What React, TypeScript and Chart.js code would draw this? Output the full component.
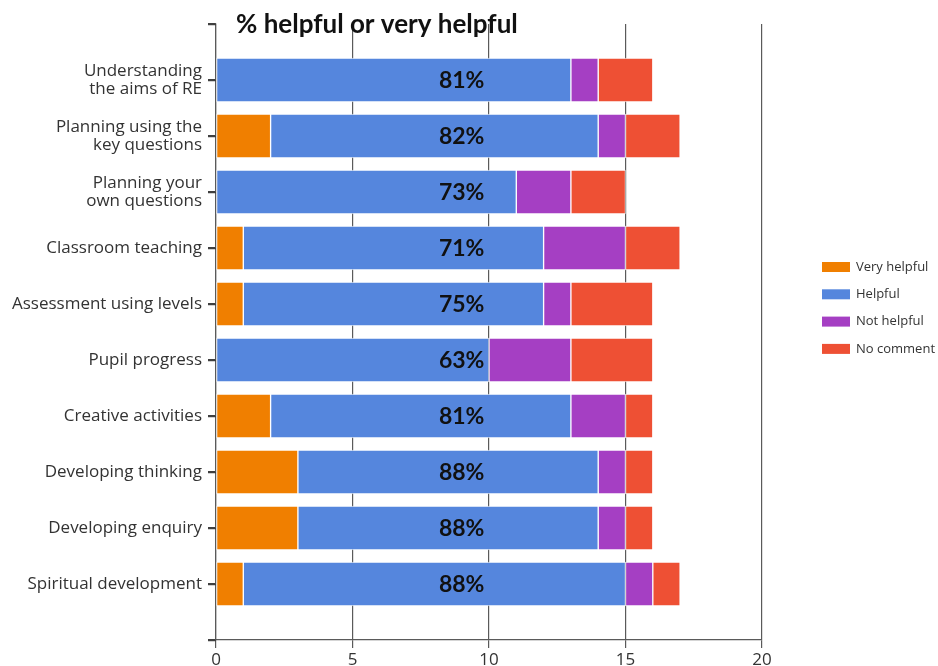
import React, { useEffect, useRef } from "react";
import { Chart, registerables } from "chart.js";

Chart.register(...registerables);

const categories: (string | string[])[] = [
  ["Understanding", "the aims of RE"],
  ["Planning using the", "key questions"],
  ["Planning your", "own questions"],
  "Classroom teaching",
  "Assessment using levels",
  "Pupil progress",
  "Creative activities",
  "Developing thinking",
  "Developing enquiry",
  "Spiritual development",
];
const veryHelpful = [0, 2, 0, 1, 1, 0, 2, 3, 3, 1];
const helpful = [13, 12, 11, 11, 11, 10, 11, 11, 11, 14];
const notHelpful = [1, 1, 2, 3, 1, 3, 2, 1, 1, 1];
const noComment = [2, 2, 2, 2, 3, 3, 1, 1, 1, 1];
const percentLabels = ["81%", "82%", "73%", "71%", "75%", "63%", "81%", "88%", "88%", "88%"];
const percentLabelX = 9;
const xTicks = [0, 5, 10, 15, 20];
const seriesNames = ["Very helpful", "Helpful", "Not helpful", "No comment"];
const seriesColors = ["#F07F00", "#5586DD", "#A53FC3", "#EE5034"];
const titleText = "% helpful or very helpful";

const pad = (arr: any[]) => [null, ...arr, null];

export default function App() {
  const ref = useRef<HTMLCanvasElement | null>(null);
  useEffect(() => {
    if (!ref.current) return;
    const labels = ["", ...categories, ""];
    const series = [veryHelpful, helpful, notHelpful, noComment];

    const overlay = {
      id: "overlay",
      afterDatasetsDraw(chart: any) {
        const { ctx, chartArea, scales } = chart;
        ctx.save();
        // y tick marks
        ctx.strokeStyle = "#404040";
        ctx.lineWidth = 1.5;
        for (let i = 0; i < labels.length; i++) {
          const y = Math.round(scales.y.getPixelForValue(i)) + 0.5;
          ctx.beginPath();
          ctx.moveTo(chartArea.left - 8, y);
          ctx.lineTo(chartArea.left, y);
          ctx.stroke();
        }
        // percent labels
        ctx.font = "bold 23px Lato";
        ctx.fillStyle = "#111";
        ctx.textAlign = "center";
        ctx.textBaseline = "middle";
        percentLabels.forEach((t, i) => {
          const x = scales.x.getPixelForValue(percentLabelX);
          const y = scales.y.getPixelForValue(i + 1);
          ctx.fillText(t, x, y + 1);
        });
        // title
        ctx.font = "bold 26px Lato";
        ctx.textAlign = "left";
        ctx.textBaseline = "alphabetic";
        ctx.fillStyle = "#111";
        ctx.fillText(titleText, chartArea.left + 20, chartArea.top + 9);
        // legend
        ctx.font = "13px 'Open Sans'";
        const lx = chartArea.right + 60;
        const ly = chartArea.top + 243;
        seriesNames.forEach((n, i) => {
          const y = ly + i * 27.3;
          ctx.fillStyle = seriesColors[i];
          ctx.fillRect(lx, y - 5, 28, 10);
          ctx.fillStyle = "#333";
          ctx.textBaseline = "middle";
          ctx.fillText(n, lx + 34, y);
        });
        ctx.restore();
      },
    };

    const chart = new Chart(ref.current, {
      type: "bar",
      data: {
        labels,
        datasets: series.map((d, i) => ({
          label: seriesNames[i],
          data: pad(d),
          backgroundColor: seriesColors[i],
          borderColor: "rgba(255,255,255,0.7)",
          borderWidth: 1,
          borderSkipped: false,
          barThickness: 44,
        })),
      },
      options: {
        indexAxis: "y",
        animation: false,
        responsive: true,
        maintainAspectRatio: false,
        layout: { padding: { left: 0, top: 24, right: 176, bottom: 0 } },
        plugins: {
          legend: { display: false },
          title: { display: false },
          tooltip: { enabled: false },
        },
        scales: {
          x: {
            stacked: true,
            min: 0,
            max: 20,
            afterBuildTicks: (s: any) => {
              s.ticks = xTicks.map((v) => ({ value: v }));
            },
            afterFit: (s: any) => {
              s.height = 26;
            },
            grid: {
              color: "#5a5a5a",
              lineWidth: 1.2,
              drawTicks: true,
              tickLength: 8,
              z: -1,
            },
            border: { display: true, color: "#5a5a5a", width: 1.2 },
            ticks: {
              font: { family: "'Open Sans'", size: 17 },
              color: "#333",
              padding: 2,
              maxRotation: 0,
            },
          },
          y: {
            stacked: true,
            offset: false,
            afterFit: (s: any) => {
              s.width = 216;
            },
            grid: {
              offset: false,
              drawOnChartArea: false,
              drawTicks: true,
              tickLength: 8,
              color: "#404040",
              lineWidth: 1.5,
            },
            border: { display: true, color: "#5a5a5a", width: 1.2 },
            ticks: {
              autoSkip: false,
              font: { family: "'Open Sans'", size: 17, lineHeight: 1.08 },
              color: "#333",
              padding: 6,
            },
          },
        },
      },
      plugins: [overlay],
    } as any);
    return () => chart.destroy();
  }, []);

  return (
    <div style={{ position: "fixed", left: 0, top: 0, width: 938, height: 666, background: "#fff" }}>
      <canvas ref={ref} />
    </div>
  );
}
